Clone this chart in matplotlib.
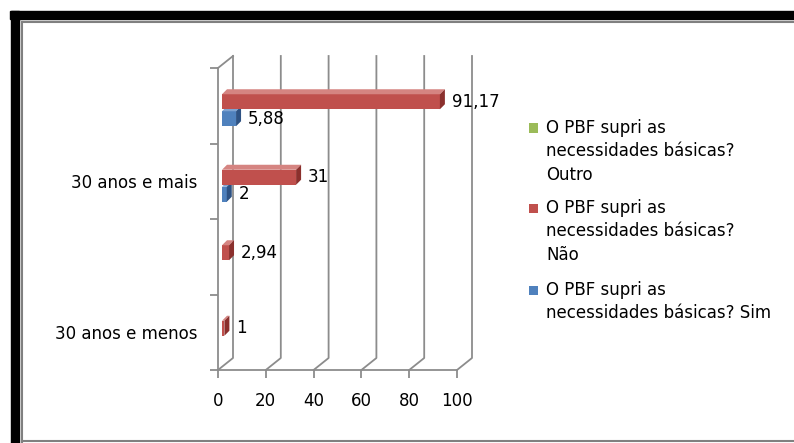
import numpy as np
import matplotlib.pyplot as plt
from matplotlib.patches import Polygon, Rectangle

plt.rcParams['font.family'] = ['DejaVu Sans']
plt.rcParams['font.size'] = 12

# categorias de baixo para cima (rótulos alternados ficam ocultos no original)
categorias = ['30 anos e menos', '', '30 anos e mais', '']
series = ['O PBF supri as\nnecessidades básicas? Sim',
          'O PBF supri as\nnecessidades básicas?\nNão',
          'O PBF supri as\nnecessidades básicas?\nOutro']
sim = [np.nan, np.nan, 2, 5.88]
nao = [1, 2.94, 31, 91.17]
outro = [np.nan, np.nan, np.nan, np.nan]
valores = [sim, nao, outro]
xticks = [0, 20, 40, 60, 80, 100]

cor_frente = ['#4F81BD', '#C0504D', '#9BBB59']
cor_topo = ['#7FA3D1', '#D58481', '#B6CF84']
cor_lado = ['#2E5283', '#8B302D', '#6E8A3A']
cinza = '#8C8C8C'

W, H = 794, 443
fig = plt.figure(figsize=(W / 100, H / 100), dpi=100)


def fx(x):
    return x / W


def fy(y):
    return 1 - y / H


# moldura
fig.patches.append(Rectangle((fx(10), fy(19)), 1, 8 / H, transform=fig.transFigure, color='black'))
fig.patches.append(Rectangle((fx(11), 0), 8 / W, fy(11), transform=fig.transFigure, color='black'))
fig.lines.append(plt.Line2D([fx(22), 1], [fy(22), fy(22)], transform=fig.transFigure, color='#808080', lw=1.5))
fig.lines.append(plt.Line2D([fx(22), fx(22)], [fy(22), 0], transform=fig.transFigure, color='#808080', lw=1.5))
fig.lines.append(plt.Line2D([fx(22), 1], [fy(441), fy(441)], transform=fig.transFigure, color='#808080', lw=1.5))

x0p, x1p, y0p, y1p = 218, 457, 370, 68
ax = fig.add_axes([fx(x0p), fy(y0p), fx(x1p) - fx(x0p), fy(y1p) - fy(y0p)])
n = len(categorias)
ax.set_xlim(0, 100)
ax.set_ylim(-0.5, n - 0.5)
kx = (x1p - x0p) / 100.0
ky = (y0p - y1p) / float(n)

# paredes 3D
dx, dy = 15 / kx, 12 / ky
for t in xticks:
    ax.plot([t, t + dx, t + dx], [-0.5, -0.5 + dy, n - 0.5 + dy], color=cinza, lw=1.3, clip_on=False, zorder=1)
ax.plot([0, dx], [n - 0.5, n - 0.5 + dy], color=cinza, lw=1.3, clip_on=False, zorder=1)

for s in ['top', 'right']:
    ax.spines[s].set_visible(False)
for s in ['left', 'bottom']:
    ax.spines[s].set_color(cinza)
    ax.spines[s].set_linewidth(1.3)

ax.set_xticks(xticks)
ax.set_xticklabels([str(t) for t in xticks])
ax.tick_params(axis='x', length=6, width=1.3, color=cinza, pad=10, labelsize=12)
ax.set_yticks(np.arange(n + 1) - 0.5)
ax.set_yticklabels([''] * (n + 1))
ax.tick_params(axis='y', length=6, width=1.3, color=cinza)
ax.set_yticks(np.arange(n), minor=True)
ax.set_yticklabels(categorias, minor=True)
ax.tick_params(axis='y', which='minor', length=0, pad=15, labelsize=12)

# barras 3D
h = 15 / ky
passo = 17 / ky
bx, by = 4 / kx, 4 / ky
px_, py_ = 5 / kx, 5 / ky
desloc = [-passo, 0, passo]
for si, vals in enumerate(valores):
    for i, v in enumerate(vals):
        if np.isnan(v):
            continue
        yc = i + desloc[si] + by
        xa, xb = bx, bx + v
        ya, yb = yc - h / 2, yc + h / 2
        ax.add_patch(Rectangle((xa, ya), v, h, facecolor=cor_frente[si], edgecolor='none', zorder=3, clip_on=False))
        ax.add_patch(Polygon([(xa, yb), (xb, yb), (xb + px_, yb + py_), (xa + px_, yb + py_)],
                             facecolor=cor_topo[si], edgecolor='none', zorder=3, clip_on=False))
        ax.add_patch(Polygon([(xb, ya), (xb + px_, ya + py_), (xb + px_, yb + py_), (xb, yb)],
                             facecolor=cor_lado[si], edgecolor='none', zorder=3, clip_on=False))
        ax.text(xb + px_ + 7 / kx, yc, f'{v:g}'.replace('.', ','), va='center', ha='left',
                fontsize=12, color='black', zorder=4, clip_on=False)

# legenda
ly = {0: 290, 1: 208, 2: 128}
for si in range(len(series)):
    y = ly[si]
    fig.patches.append(Rectangle((fx(529), fy(y + 4.5)), 9 / W, 9 / H, transform=fig.transFigure,
                                 facecolor=cor_frente[si], edgecolor='none'))
    for j, linha in enumerate(series[si].split('\n')):
        fig.text(fx(546), fy(y + 23.5 * j), linha, va='center', ha='left', fontsize=12)

fig.savefig('out.png', dpi=100)
